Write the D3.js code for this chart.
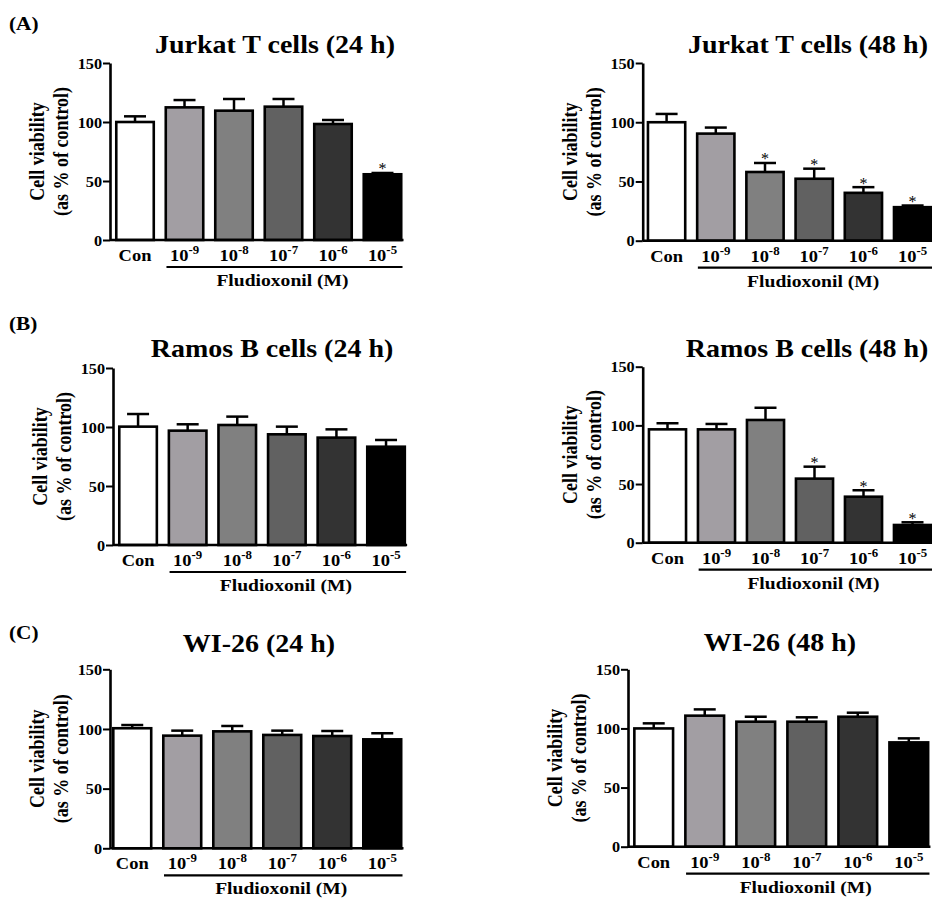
<!DOCTYPE html>
<html>
<head>
<meta charset="utf-8">
<script src="https://cdn.jsdelivr.net/npm/d3@7"></script>
<style>
  body { margin: 0; background: #fff; }
</style>
</head>
<body>
<div id="plotDiv"></div>
<script>
// categories on the x axis ("10-9" is drawn as 10 with a superscript -9)
var categories = ["Con", "10-9", "10-8", "10-7", "10-6", "10-5"];
var yTicks = [0, 50, 100, 150];
var fills = ["#ffffff", "#a29ea3", "#808080", "#616161", "#333333", "#000000"];

var titles = ["Jurkat T cells (24 h)", "Jurkat T cells (48 h)",
              "Ramos B cells (24 h)", "Ramos B cells (48 h)",
              "WI-26 (24 h)", "WI-26 (48 h)"];
var panelLetters = ["(A)", "(B)", "(C)"];

// mean values (% of control), upper error (SEM) and significance flags
var jurkat24 = [100, 112.4, 109.6, 113, 98.3, 55.7];
var jurkat24Err = [4.8, 6.2, 9.9, 6.5, 3.4, 1.1];
var jurkat24Sig = [0, 0, 0, 0, 0, 1];

var jurkat48 = [100, 90.4, 58, 52.3, 40.4, 28.3];
var jurkat48Err = [7, 5.1, 7.6, 8.5, 4.8, 1.4];
var jurkat48Sig = [0, 0, 1, 1, 1, 1];

var ramos24 = [100.3, 96.9, 101.7, 93.8, 91, 83.3];
var ramos24Err = [10.7, 5.4, 7.1, 6.5, 7, 5.7];
var ramos24Sig = [0, 0, 0, 0, 0, 0];

var ramos48 = [96.6, 96.6, 104.6, 54.6, 39.2, 15.1];
var ramos48Err = [5.2, 4.6, 10.4, 10.2, 5.5, 2.3];
var ramos48Sig = [0, 0, 0, 1, 1, 1];

var wi24 = [100.6, 94.4, 98, 95, 94.1, 91.3];
var wi24Err = [2.7, 4.2, 4.5, 3.6, 4.2, 5.1];
var wi24Sig = [0, 0, 0, 0, 0, 0];

var wi48 = [100, 110.8, 105.7, 105.7, 109.9, 88.2];
var wi48Err = [4.3, 5.3, 4.2, 3.7, 3.4, 3.4];
var wi48Sig = [0, 0, 0, 0, 0, 0];

var width = 932, height = 899;
var sx = 1.12; // the figure's text is a little wider than tall

var svg = d3.select("#plotDiv").append("svg")
    .attr("width", width)
    .attr("height", height);

// set the font on a text selection
function font(sel, size, weight) {
    return sel.attr("font-family", "Liberation Serif")
        .attr("font-weight", weight || "bold")
        .attr("font-size", size)
        .attr("fill", "#000");
}

// layout of each panel: axis x, pixel of 0 and 150, band range, title position
var panels = [
    { values: jurkat24, err: jurkat24Err, sig: jurkat24Sig, title: titles[0],
      ax: 110, y0: 240, y150: 63, x0: 112.5, x1: 405, tx: 275, ty: 53 },
    { values: jurkat48, err: jurkat48Err, sig: jurkat48Sig, title: titles[1],
      ax: 642.7, y0: 240.7, y150: 63, x0: 644.2, x1: 935, tx: 808, ty: 53 },
    { values: ramos24, err: ramos24Err, sig: ramos24Sig, title: titles[2],
      ax: 113, y0: 545, y150: 368, x0: 115.5, x1: 408.6, tx: 272, ty: 357 },
    { values: ramos48, err: ramos48Err, sig: ramos48Sig, title: titles[3],
      ax: 642.7, y0: 542.7, y150: 366.7, x0: 645.2, x1: 934.8, tx: 807, ty: 357 },
    { values: wi24, err: wi24Err, sig: wi24Sig, title: titles[4],
      ax: 110, y0: 848.3, y150: 669.3, x0: 109.5, x1: 405, tx: 259, ty: 652 },
    { values: wi48, err: wi48Err, sig: wi48Sig, title: titles[5],
      ax: 628, y0: 846.7, y150: 669.3, x0: 630.5, x1: 932, tx: 780, ty: 651 }
];

var letterPos = [30, 330, 639];
panelLetters.forEach(function (l, i) {
    font(svg.append("text")
        .attr("transform", "translate(9," + letterPos[i] + ") scale(" + sx + ",1)"), 19).text(l);
});

panels.forEach(function (p) { drawPanel(p); });

function drawPanel(p) {
    var g = svg.append("g");
    var yScale = d3.scaleLinear().domain([0, 150]).range([p.y0, p.y150]);
    var xScale = d3.scaleBand().domain(categories).range([p.x0, p.x1])
        .paddingInner(0.19).paddingOuter(0.05);
    var bw = xScale.bandwidth();
    var rows = p.values.map(function (v, i) {
        return { cat: categories[i], v: v, e: p.err[i], sig: p.sig[i], fill: fills[i] };
    });
    var mid = function (d) { return xScale(d.cat) + bw / 2; };

    // bars
    g.selectAll("rect").data(rows).enter().append("rect")
        .attr("x", function (d) { return xScale(d.cat) + 1.3; })
        .attr("y", function (d) { return yScale(d.v); })
        .attr("width", bw - 2.6)
        .attr("height", function (d) { return yScale(0) - yScale(d.v); })
        .attr("fill", function (d) { return d.fill; })
        .attr("stroke", "#000").attr("stroke-width", 2.6);

    // upper error bars
    var eb = g.selectAll("g.err").data(rows).enter().append("g");
    eb.append("line")
        .attr("x1", mid).attr("x2", mid)
        .attr("y1", function (d) { return yScale(d.v); })
        .attr("y2", function (d) { return yScale(d.v + d.e); })
        .attr("stroke", "#000").attr("stroke-width", 2.5);
    eb.append("line")
        .attr("x1", function (d) { return mid(d) - 11; })
        .attr("x2", function (d) { return mid(d) + 11; })
        .attr("y1", function (d) { return yScale(d.v + d.e); })
        .attr("y2", function (d) { return yScale(d.v + d.e); })
        .attr("stroke", "#000").attr("stroke-width", 2.5);

    // asterisks
    font(g.selectAll("text.star").data(rows.filter(function (d) { return d.sig; })).enter().append("text")
        .attr("x", mid)
        .attr("y", function (d) { return yScale(d.v + d.e) + 1.5; })
        .attr("text-anchor", "middle"), 16, "normal")
        .text("*");

    // y axis
    var yAxis = d3.axisLeft(yScale).tickValues(yTicks).tickSize(7).tickPadding(1).tickSizeOuter(0);
    var ya = g.append("g").attr("transform", "translate(" + p.ax + ",0)").call(yAxis);
    ya.select(".domain").attr("stroke-width", 2.6);
    ya.selectAll(".tick line").attr("stroke-width", 2);
    font(ya.selectAll(".tick text"), 14.5)
        .attr("x", -8 / sx).attr("dy", "0.36em")
        .attr("transform", "scale(" + sx + ",1)");

    // x axis line
    var last = categories[categories.length - 1];
    g.append("line")
        .attr("x1", p.ax).attr("x2", xScale(last) + bw + 1)
        .attr("y1", yScale(0)).attr("y2", yScale(0))
        .attr("stroke", "#000").attr("stroke-width", 2.6);

    // x tick labels
    var xAxis = d3.axisBottom(xScale).tickSize(0).tickPadding(0);
    var xa = g.append("g").attr("transform", "translate(0," + yScale(0) + ")").call(xAxis);
    xa.select(".domain").remove();
    font(xa.selectAll(".tick text"), 16.5)
        .attr("dy", null).attr("y", 21)
        .attr("transform", "scale(" + sx + ",1)")
        .each(function (d) {
            var t = d3.select(this);
            if (d.indexOf("10") === 0) {
                t.text("10");
                t.append("tspan").attr("dy", "-7").attr("font-size", 11.5).text(d.slice(2));
            }
        });

    // Fludioxonil bracket
    var bx1 = xScale(categories[1]) + 2, bx2 = xScale(last) + bw;
    g.append("line")
        .attr("x1", bx1).attr("x2", bx2)
        .attr("y1", yScale(0) + 27).attr("y2", yScale(0) + 27)
        .attr("stroke", "#000").attr("stroke-width", 2.2);
    font(g.append("text")
        .attr("transform", "translate(" + ((bx1 + bx2) / 2 - 2) + "," + (yScale(0) + 46) + ") scale(" + sx + ",1)")
        .attr("text-anchor", "middle"), 17.5)
        .text("Fludioxonil (M)");

    // y label
    var ymid = (p.y0 + p.y150) / 2;
    font(g.append("text")
        .attr("transform", "translate(" + (p.ax - 66) + "," + ymid + ") scale(" + sx + ",1) rotate(-90)")
        .attr("text-anchor", "middle"), 18)
        .text("Cell viability");
    font(g.append("text")
        .attr("transform", "translate(" + (p.ax - 42) + "," + ymid + ") scale(" + sx + ",1) rotate(-90)")
        .attr("text-anchor", "middle"), 18)
        .text("(as % of control)");

    // title
    font(g.append("text")
        .attr("transform", "translate(" + p.tx + "," + p.ty + ") scale(" + sx + ",1)")
        .attr("text-anchor", "middle"), 25)
        .text(p.title);
}
</script>
</body>
</html>
